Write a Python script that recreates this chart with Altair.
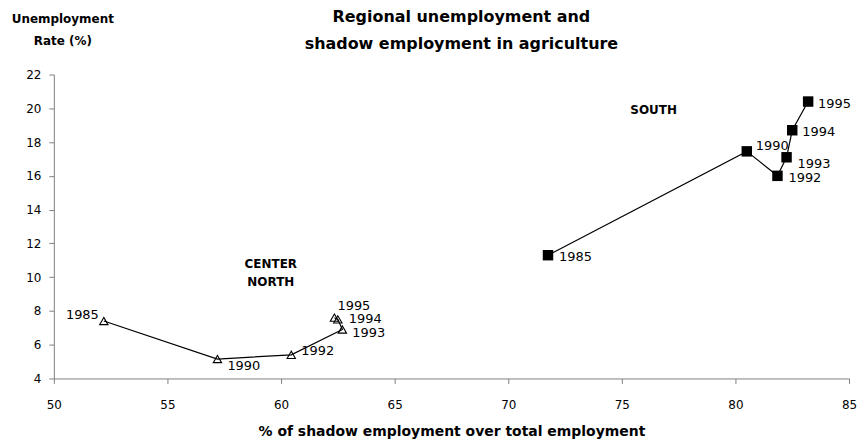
import altair as alt
import pandas as pd

# ---- data ----
years = [1985, 1990, 1992, 1993, 1994, 1995]

cn_shadow = [52.2, 57.2, 60.45, 62.7, 62.5, 62.35]
cn_unemp = [7.4, 5.15, 5.4, 6.9, 7.5, 7.6]

s_shadow = [71.75, 80.5, 81.85, 82.25, 82.5, 83.2]
s_unemp = [11.3, 17.45, 16.0, 17.1, 18.7, 20.4]

x_ticks = [50, 55, 60, 65, 70, 75, 80, 85]
y_ticks = [4, 6, 8, 10, 12, 14, 16, 18, 20, 22]

region_names = ["SOUTH", "CENTER", "NORTH"]
region_x = [76.4, 59.55, 59.55]
region_y = [19.9, 10.8, 9.7]

cn = pd.DataFrame({"region": "Center North", "year": years, "shadow": cn_shadow, "unemp": cn_unemp})
so = pd.DataFrame({"region": "South", "year": years, "shadow": s_shadow, "unemp": s_unemp})
df = pd.concat([cn, so], ignore_index=True)
ann = pd.DataFrame({"label": region_names, "shadow": region_x, "unemp": region_y})

FONT = "DejaVu Sans"

x_enc = alt.X("shadow:Q",
              scale=alt.Scale(domain=[50, 85], nice=False, zero=False),
              axis=alt.Axis(values=x_ticks, title="% of shadow employment over total employment",
                            titleFontSize=14, titleFontWeight="bold", titleFont=FONT,
                            titlePadding=14, labelPadding=16, tickSize=5,
                            labelFlush=False, labelOverlap=False,
                            labelFontSize=12, labelFont=FONT))
y_enc = alt.Y("unemp:Q",
              scale=alt.Scale(domain=[4, 22], nice=False, zero=False),
              axis=alt.Axis(values=y_ticks, title=None, tickSize=5, labelPadding=8,
                            labelFlush=False, labelOverlap=False,
                            labelFontSize=12, labelFont=FONT))

base = alt.Chart(df).encode(x=x_enc, y=y_enc)

lines = base.mark_line(color="black", strokeWidth=1.2).encode(
    detail="region:N", order="year:O")

tri = base.transform_filter(alt.datum.region == "Center North").mark_point(
    shape="triangle-up", filled=False, color="black", size=70, strokeWidth=1.1, opacity=1)

sq = base.transform_filter(alt.datum.region == "South").mark_point(
    shape="square", filled=True, color="black", size=110, opacity=1)

# year labels, offsets per label
offsets = {
    ("Center North", 1985): (-5, -6, "right"),
    ("Center North", 1990): (10, 7, "left"),
    ("Center North", 1992): (10, -4, "left"),
    ("Center North", 1993): (10, 4, "left"),
    ("Center North", 1994): (11, 0, "left"),
    ("Center North", 1995): (3, -12, "left"),
    ("South", 1985): (11, 2, "left"),
    ("South", 1990): (9, -5, "left"),
    ("South", 1992): (11, 2, "left"),
    ("South", 1993): (11, 7, "left"),
    ("South", 1994): (10, 2, "left"),
    ("South", 1995): (10, 2, "left"),
}

label_layers = []
for (reg, yr), (dx, dy, al) in offsets.items():
    label_layers.append(
        base.transform_filter((alt.datum.region == reg) & (alt.datum.year == yr))
        .mark_text(dx=dx, dy=dy, align=al, baseline="middle", fontSize=13, font=FONT, color="black")
        .encode(text="year:N")
    )

ann_layer = alt.Chart(ann).mark_text(fontSize=12, fontWeight="bold", font=FONT, color="black",
                                     align="center", baseline="middle").encode(
    x=x_enc, y=y_enc, text="label:N")

ytitle = alt.Chart(pd.DataFrame({"t": [0]})).mark_text(
    fontSize=12, fontWeight="bold", font=FONT, color="black", align="center",
    baseline="middle", lineBreak="\n", lineHeight=22).encode(
    x=alt.value(9), y=alt.value(-56), text=alt.value("Unemployment\nRate (%)"))

chart = alt.layer(lines, tri, sq, *label_layers, ann_layer, ytitle).properties(
    width=798, height=305,
    title=alt.TitleParams(
        ["Regional unemployment and", "shadow employment in agriculture"],
        fontSize=16, fontWeight="bold", font=FONT, anchor="middle", frame="group",
        lineHeight=27, offset=0, dx=10, dy=39, color="black"),
    autosize=alt.AutoSizeParams(type="none"),
    padding={"left": 46, "top": 66, "right": 10, "bottom": 64},
).configure_view(stroke=None).configure_axis(
    grid=False, domainColor="#808080", tickColor="#808080", labelColor="black",
    titleColor="black", domainWidth=1)

chart.save("out.html", embed_options={"renderer": "svg", "actions": False})
